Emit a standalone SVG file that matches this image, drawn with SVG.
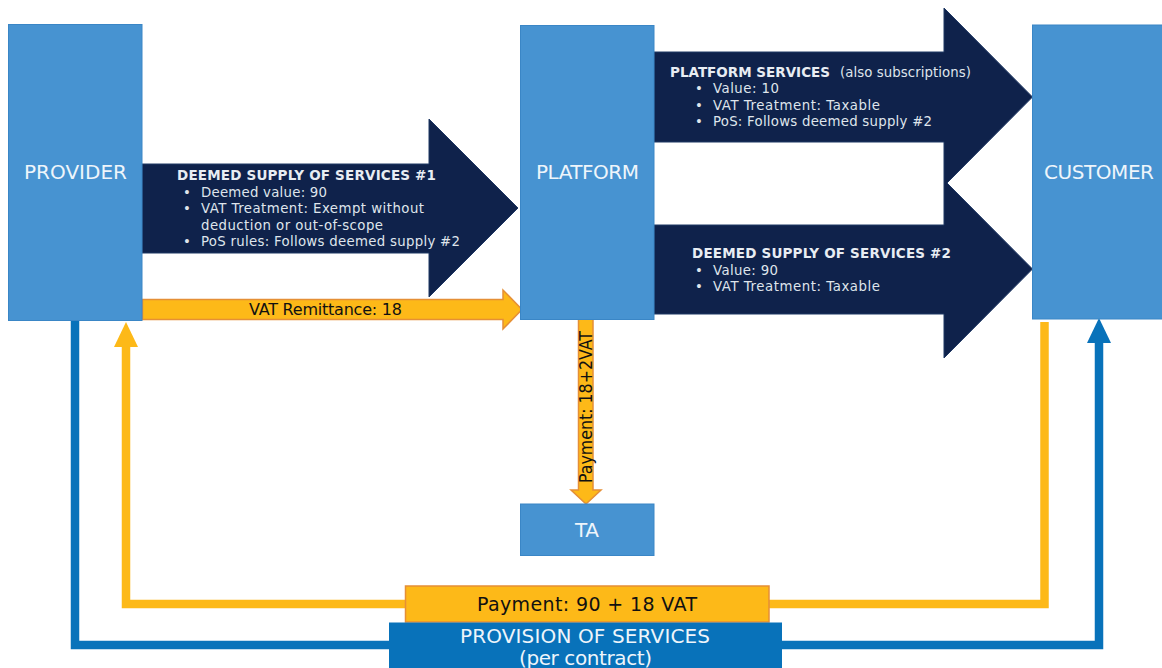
<svg xmlns="http://www.w3.org/2000/svg" width="1162" height="668" viewBox="0 0 1162 668">
<style>
text{font-family:"DejaVu Sans","Liberation Sans",sans-serif}
.node{fill:#4793d1;stroke:#3a86c6;stroke-width:1}
.nl{fill:#eef5fb;font-size:20px;text-anchor:middle}
.navy{fill:#0f224b;stroke:#1f3864;stroke-width:1}
.h{fill:#e8edf3;font-size:13.5px;font-weight:bold}
.b{fill:#dfe5ec;font-size:13.3px}
.y{fill:#fdb918;stroke:#e58f36;stroke-width:1.500}
.k{fill:#111;font-size:16px;text-anchor:middle}
.ln{fill:none;stroke-width:8.500;stroke-linejoin:miter}
</style>
<rect width="1162" height="668" fill="#fff"/>
<g id="connectors">
<path class="ln" stroke="#0872ba" d="M75 320V645H389"/>
<path class="ln" stroke="#0872ba" d="M782 645H1099V342"/>
<path fill="#0872ba" d="M1099 318L1111 343H1087Z"/>
<path class="ln" stroke="#fdb918" d="M405 604H126V346"/>
<path fill="#fdb918" d="M126 322L138 347H114Z"/>
<path class="ln" stroke="#fdb918" d="M769 604H1044.500V322"/>
<path id="arrow-remit" class="y" d="M142.500 299.500H503V290L522 309.500L503 329V319.500H142.500Z"/>
<path id="arrow-pay-ta" class="y" d="M578.500 318.500H593V490H601L586 504L571 490H578.500Z"/>
<path id="arrow-ds1" class="navy" d="M142 164H429V119L518 208L429 297V253H142Z"/>
<path id="arrow-ps-ds2" class="navy" d="M654 52H944V8L1032.500 97L947 183L1032.500 269L944 358V314H654V225H944V142H654Z"/>
</g>
<g id="provider"><rect class="node" x="8.500" y="24.500" width="133.500" height="296"/><text class="nl" x="75.500" y="179" textLength="103">PROVIDER</text></g>
<g id="platform"><rect class="node" x="520.500" y="25.500" width="133.500" height="294"/><text class="nl" x="587.500" y="179" textLength="103">PLATFORM</text></g>
<g id="customer"><rect class="node" x="1032.500" y="25" width="130" height="294"/><text class="nl" x="1099" y="179" textLength="110">CUSTOMER</text></g>
<g id="ta"><rect class="node" x="520.500" y="504" width="133.500" height="51.500"/><text class="nl" x="587" y="537" textLength="24">TA</text></g>
<g id="label-ds1">
<text class="h" x="177" y="180" textLength="259">DEEMED SUPPLY OF SERVICES #1</text>
<text class="b" x="183" y="196.500">•</text><text class="b" x="201" y="196.500" textLength="126">Deemed value: 90</text>
<text class="b" x="183" y="213">•</text><text class="b" x="201" y="213" textLength="223">VAT Treatment: Exempt without</text>
<text class="b" x="201" y="229.500" textLength="182">deduction or out-of-scope</text>
<text class="b" x="183" y="246">•</text><text class="b" x="201" y="246" textLength="259">PoS rules: Follows deemed supply #2</text>
</g>
<g id="label-ps">
<text class="h" x="670" y="76.500" textLength="160">PLATFORM SERVICES</text><text class="b" x="840" y="76.500" textLength="131">(also subscriptions)</text>
<text class="b" x="695" y="93">•</text><text class="b" x="713" y="93" textLength="66">Value: 10</text>
<text class="b" x="695" y="109.500">•</text><text class="b" x="713" y="109.500" textLength="167">VAT Treatment: Taxable</text>
<text class="b" x="695" y="126">•</text><text class="b" x="713" y="126" textLength="219">PoS: Follows deemed supply #2</text>
</g>
<g id="label-ds2">
<text class="h" x="692" y="258" textLength="259">DEEMED SUPPLY OF SERVICES #2</text>
<text class="b" x="695" y="274.500">•</text><text class="b" x="713" y="274.500" textLength="65">Value: 90</text>
<text class="b" x="695" y="291">•</text><text class="b" x="713" y="291" textLength="167">VAT Treatment: Taxable</text>
</g>
<text class="k" x="325.500" y="315" textLength="153">VAT Remittance: 18</text>
<text style="font-family:'DejaVu Sans',sans-serif;font-size:17px;fill:#111" transform="translate(592 483) rotate(-90)" textLength="152" lengthAdjust="spacingAndGlyphs">Payment: 18+2VAT</text>
<g id="payment"><rect class="y" x="405.500" y="586" width="363.500" height="36"/><text class="k" style="font-size:19px" x="587" y="611" textLength="220">Payment: 90 + 18 VAT</text></g>
<g id="provision"><rect x="389" y="622.500" width="393" height="46" fill="#0872ba"/>
<text class="nl" x="585" y="643" textLength="250">PROVISION OF SERVICES</text>
<text class="nl" x="585.500" y="665" textLength="133">(per contract)</text></g>
</svg>
